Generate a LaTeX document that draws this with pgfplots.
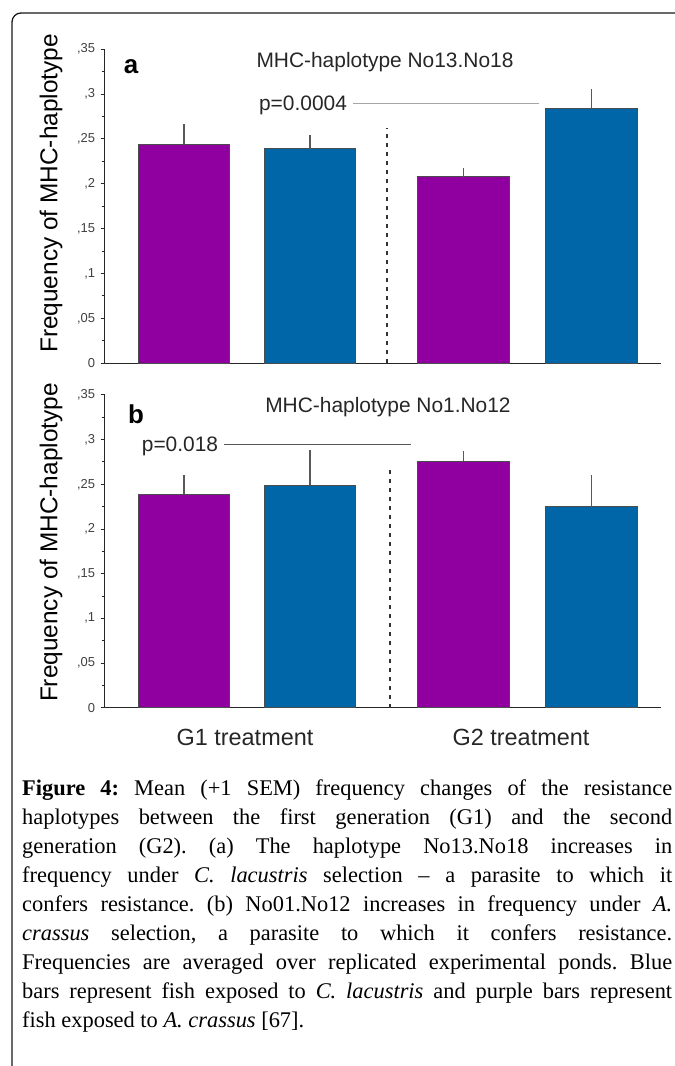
\documentclass[border=0pt]{standalone}
\usepackage{pgfplots}
\pgfplotsset{compat=1.18}
\usepackage{fontspec}
\setmainfont{Liberation Sans}
\newfontfamily\capfont[Ligatures=TeX]{Liberation Serif}
\definecolor{barpurple}{HTML}{9000A0}
\definecolor{barblue}{HTML}{0066A8}
\pgfplotsset{
  panel/.style={
    scale only axis,
    width=556.4bp,
    xmin=1.046, xmax=6.61,
    ymin=0, ymax=0.35,
    axis x line=bottom, axis y line=left,
    axis line style={-, line width=1.3bp, black!85},
    ytick={0,0.05,0.1,0.15,0.2,0.25,0.3,0.35},
    yticklabels={0,{,05},{,1},{,15},{,2},{,25},{,3},{,35}},
    minor y tick num=1,
    tick align=outside,
    major tick length=4bp, minor tick length=3bp,
    y tick style={line width=1bp, black!85},
    yticklabel style={font=\fontsize{13}{13}\selectfont, text=black!75, xshift=-2bp},
    clip=false,
    ybar, bar width=0.915, bar shift=0,
    every axis plot/.append style={draw=black!70, line width=1.2bp},
    error bars/y dir=plus, error bars/y explicit,
    error bars/error mark=none,
    error bars/error bar style={line width=1.6bp, black!65},
    ylabel={Frequency of MHC-haplotype},
  }
}
\begin{document}
\begin{tikzpicture}[x=1bp,y=1bp]
\useasboundingbox (0,0) rectangle (675,1066);
\draw[line width=1.3bp, rounded corners=9bp, black!90] (12,-5) -- (12,1053) -- (690,1053);
% panel a
\begin{axis}[panel, at={(104.6bp,702.7bp)}, anchor=south west, height=314bp, xtick=\empty,
  every axis y label/.style={at={(axis description cs:-0.096,0.541)}, rotate=90, anchor=center, font=\fontsize{24.5}{24.5}\selectfont}]
\addplot[fill=barpurple] coordinates {(1.84,0.244) +- (0,0.023) (4.635,0.208) +- (0,0.0095)};
\addplot[fill=barblue] coordinates {(3.10,0.239) +- (0,0.015) (5.915,0.284) +- (0,0.022)};
\draw[black!80, line width=1.8bp, dash pattern=on 4bp off 5bp] (axis cs:3.87,0) -- (axis cs:3.87,0.262);
\draw[black!35, line width=1.2bp] (axis cs:3.53,0.290) -- (axis cs:5.39,0.290);
\node[font=\fontsize{21}{21}\selectfont, text=black!85] at (axis cs:3.03,0.287) {p=0.0004};
\node[font=\fontsize{21}{21}\selectfont, text=black!85] at (axis cs:3.85,0.336) {MHC-haplotype No13.No18};
\node[font=\bfseries\fontsize{26}{26}\selectfont] at (axis cs:1.31,0.331) {a};
\end{axis}
% panel b
\begin{axis}[panel, at={(104.6bp,358.3bp)}, anchor=south west, height=312.7bp,
  xtick={2.45,5.21}, xticklabels={G1 treatment,G2 treatment},
  x tick style={draw=none},
  xticklabel style={font=\fontsize{23.5}{23.5}\selectfont, text=black!85, yshift=-14bp},
  every axis y label/.style={at={(axis description cs:-0.096,0.528)}, rotate=90, anchor=center, font=\fontsize{24.5}{24.5}\selectfont}]
\addplot[fill=barpurple] coordinates {(1.84,0.239) +- (0,0.021) (4.635,0.276) +- (0,0.011)};
\addplot[fill=barblue] coordinates {(3.10,0.249) +- (0,0.039) (5.915,0.225) +- (0,0.035)};
\draw[black!80, line width=1.8bp, dash pattern=on 4bp off 5bp] (axis cs:3.896,0) -- (axis cs:3.896,0.266);
\draw[black!65, line width=1.2bp] (axis cs:2.24,0.295) -- (axis cs:4.11,0.295);
\node[font=\fontsize{21}{21}\selectfont, text=black!85] at (axis cs:1.80,0.292) {p=0.018};
\node[font=\fontsize{21}{21}\selectfont, text=black!85] at (axis cs:3.88,0.337) {MHC-haplotype No1.No12};
\node[font=\bfseries\fontsize{26}{26}\selectfont] at (axis cs:1.36,0.329) {b};
\end{axis}
% caption
\node[anchor=north west, inner sep=0pt, text width=650bp, align=justify,
  font=\capfont\fontsize{22.5}{29}\selectfont\frenchspacing] at (22,286) {%
\textbf{Figure 4:} Mean (+1 SEM) frequency changes of the resistance\linebreak
haplotypes between the first generation (G1) and the second\linebreak
generation (G2). (a) The haplotype No13.No18 increases in\linebreak
frequency under \textit{C. lacustris} selection \textendash{} a parasite to which it\linebreak
confers resistance. (b) No01.No12 increases in frequency under \textit{A.}\linebreak
\textit{crassus} selection, a parasite to which it confers resistance.\linebreak
Frequencies are averaged over replicated experimental ponds. Blue\linebreak
bars represent fish exposed to \textit{C. lacustris} and purple bars represent\linebreak
fish exposed to \textit{A. crassus} [67].\par};
\end{tikzpicture}
\end{document}
